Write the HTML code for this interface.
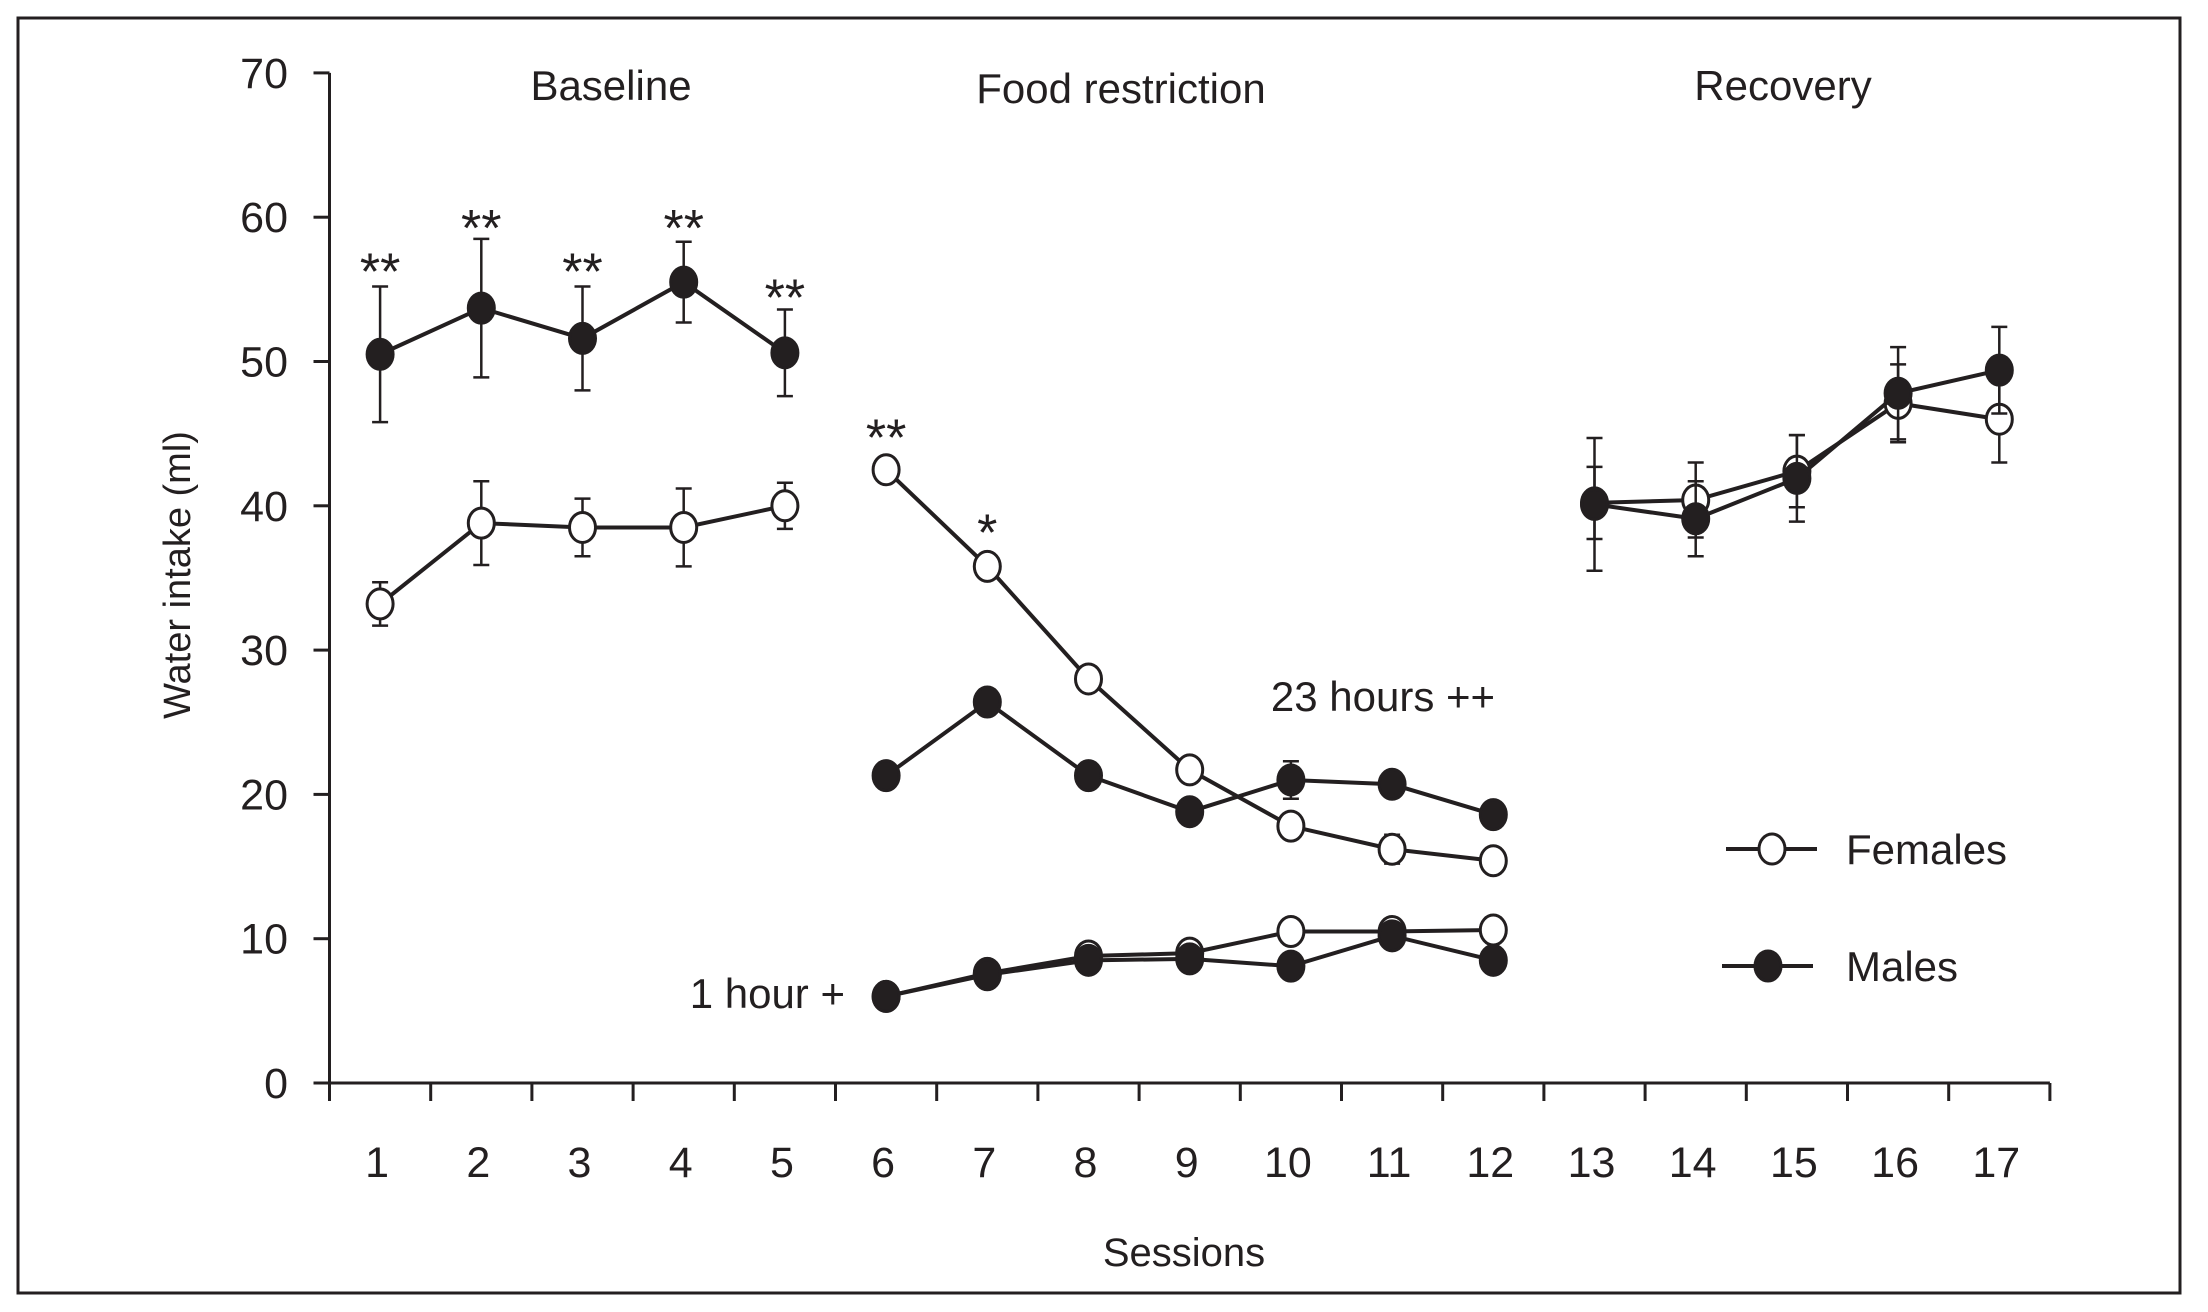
<!DOCTYPE html>
<html><head><meta charset="utf-8"><style>
html,body{margin:0;padding:0;background:#fff;}
svg{display:block;}
text{font-family:"Liberation Sans Narrow","Liberation Sans",sans-serif;fill:#231f20;}
</style></head><body>
<svg id="chart" width="2208" height="1312" viewBox="0 0 2208 1312" xmlns="http://www.w3.org/2000/svg">
<rect x="18" y="18" width="2162" height="1275" fill="none" stroke="#231f20" stroke-width="3"/>
<g id="axes"></g>
<g id="marks"></g>
<text x="611" y="100" font-size="42" text-anchor="middle">Baseline</text>
<text x="1121" y="103" font-size="42" text-anchor="middle">Food restriction</text>
<text x="1783" y="100" font-size="42" text-anchor="middle">Recovery</text>
<text x="1383" y="711" font-size="42" text-anchor="middle">23 hours ++</text>
<text x="845" y="1008" font-size="42" text-anchor="end">1 hour +</text>
<text transform="translate(190,575) rotate(-90)" font-size="38" text-anchor="middle">Water intake (ml)</text>
<text x="1184" y="1266" font-size="40" text-anchor="middle">Sessions</text>
<g>
<line x1="1726" y1="849" x2="1817" y2="849" stroke="#231f20" stroke-width="4"/>
<ellipse cx="1772" cy="849" rx="13" ry="15" fill="#fff" stroke="#231f20" stroke-width="3"/>
<text x="1846" y="864" font-size="42">Females</text>
<line x1="1722" y1="966" x2="1813" y2="966" stroke="#231f20" stroke-width="4"/>
<ellipse cx="1768" cy="966" rx="13" ry="15" fill="#231f20" stroke="#231f20" stroke-width="3"/>
<text x="1846" y="981" font-size="42">Males</text>
</g>
</svg>
<script>
const sessions=[1,2,3,4,5,6,7,8,9,10,11,12,13,14,15,16,17];
const yTicks=[0,10,20,30,40,50,60,70];
// Baseline (sessions 1-5)
const baseSessions=[1,2,3,4,5];
const baseMales=[50.5,53.7,51.6,55.5,50.6];
const baseMalesErr=[4.7,4.8,3.6,2.8,3.0];
const baseFemales=[33.2,38.8,38.5,38.5,40.0];
const baseFemalesErr=[1.5,2.9,2.0,2.7,1.6];
// Food restriction (sessions 6-12)
const frSessions=[6,7,8,9,10,11,12];
const fr23Females=[42.5,35.8,28.0,21.7,17.8,16.2,15.4];
const fr23FemalesErr=[0,0,0,0,0.6,1.0,0];
const fr23Males=[21.3,26.4,21.3,18.8,21.0,20.7,18.6];
const fr23MalesErr=[0,0,0,0,1.3,0,0];
const fr1Females=[6.0,7.6,8.8,9.0,10.5,10.5,10.6];
const fr1Males=[6.0,7.5,8.5,8.6,8.1,10.2,8.5];
// Recovery (sessions 13-17)
const recSessions=[13,14,15,16,17];
const recFemales=[40.2,40.4,42.4,47.1,46.0];
const recFemalesErr=[2.5,2.6,2.5,2.7,3.0];
const recMales=[40.1,39.1,41.9,47.8,49.4];
const recMalesErr=[4.6,2.6,3.0,3.2,3.0];
// Significance annotations
const starSessions=[1,2,3,4,5,6,7];
const starText=["**","**","**","**","**","**","*"];
const starValues=[56.8,59.8,56.8,59.8,55.0,45.3,38.7];

const NS='http://www.w3.org/2000/svg';
const X0=329.5, XW=101.2, Y0=1083, YK=14.43;
function xs(s){return X0+(s-0.5)*XW;}
function ys(v){return Y0-v*YK;}
function mk(tag,attrs,parent){const e=document.createElementNS(NS,tag);for(const k in attrs)e.setAttribute(k,attrs[k]);parent.appendChild(e);return e;}
const axes=document.getElementById('axes');
const marks=document.getElementById('marks');
const ink='#231f20';

let yl=mk('line',{x1:X0,y1:ys(70),x2:X0,y2:Y0,stroke:ink,'stroke-width':3},axes);


let xl=mk('line',{x1:X0-16,y1:Y0,x2:X0+17*XW,y2:Y0,stroke:ink,'stroke-width':3},axes);


yTicks.forEach(v=>{
  let t=mk('line',{x1:X0-16,y1:ys(v),x2:X0,y2:ys(v),stroke:ink,'stroke-width':3},axes);
  
  
  let l=mk('text',{x:288,y:ys(v)+15,'font-size':43,'text-anchor':'end'},axes);
  l.textContent=v;
  
  
});
for(let k=0;k<=17;k++){
  let t=mk('line',{x1:X0+k*XW,y1:Y0,x2:X0+k*XW,y2:Y0+18,stroke:ink,'stroke-width':3},axes);
  
  
}
sessions.forEach(s=>{
  let l=mk('text',{x:xs(s)-3,y:1177,'font-size':43,'text-anchor':'middle'},axes);
  l.textContent=s;
  
  
});

function series(xsArr,vals,errs,filled,name){
  const g=mk('g',{},marks);
  
  
  if(errs){
    xsArr.forEach((s,i)=>{
      if(!errs[i])return;
      const x=xs(s),a=ys(vals[i]+errs[i]),b=ys(vals[i]-errs[i]);
      let e=mk('path',{d:`M${x},${a}V${b}M${x-8},${a}H${x+8}M${x-8},${b}H${x+8}`,stroke:ink,'stroke-width':2.5,fill:'none'},g);
      
      
    });
  }
  let p=mk('polyline',{points:xsArr.map((s,i)=>xs(s)+','+ys(vals[i])).join(' '),stroke:ink,'stroke-width':4,fill:'none'},g);
  
  
  xsArr.forEach((s,i)=>{
    let c=mk('ellipse',{cx:xs(s),cy:ys(vals[i]),rx:13,ry:15,fill:filled?ink:'#fff',stroke:ink,'stroke-width':3},g);
    
    
  });
}
series(baseSessions,baseFemales,baseFemalesErr,false,'baseline-females');
series(baseSessions,baseMales,baseMalesErr,true,'baseline-males');
series(frSessions,fr1Females,null,false,'restriction-1h-females');
series(frSessions,fr1Males,null,true,'restriction-1h-males');
series(frSessions,fr23Females,fr23FemalesErr,false,'restriction-23h-females');
series(frSessions,fr23Males,fr23MalesErr,true,'restriction-23h-males');
series(recSessions,recFemales,recFemalesErr,false,'recovery-females');
series(recSessions,recMales,recMalesErr,true,'recovery-males');

starSessions.forEach((s,i)=>{
  let t=mk('text',{x:xs(s),y:ys(starValues[i])+26,'font-size':52,'text-anchor':'middle'},marks);
  t.textContent=starText[i];
  
  
});
</script>
</body></html>
